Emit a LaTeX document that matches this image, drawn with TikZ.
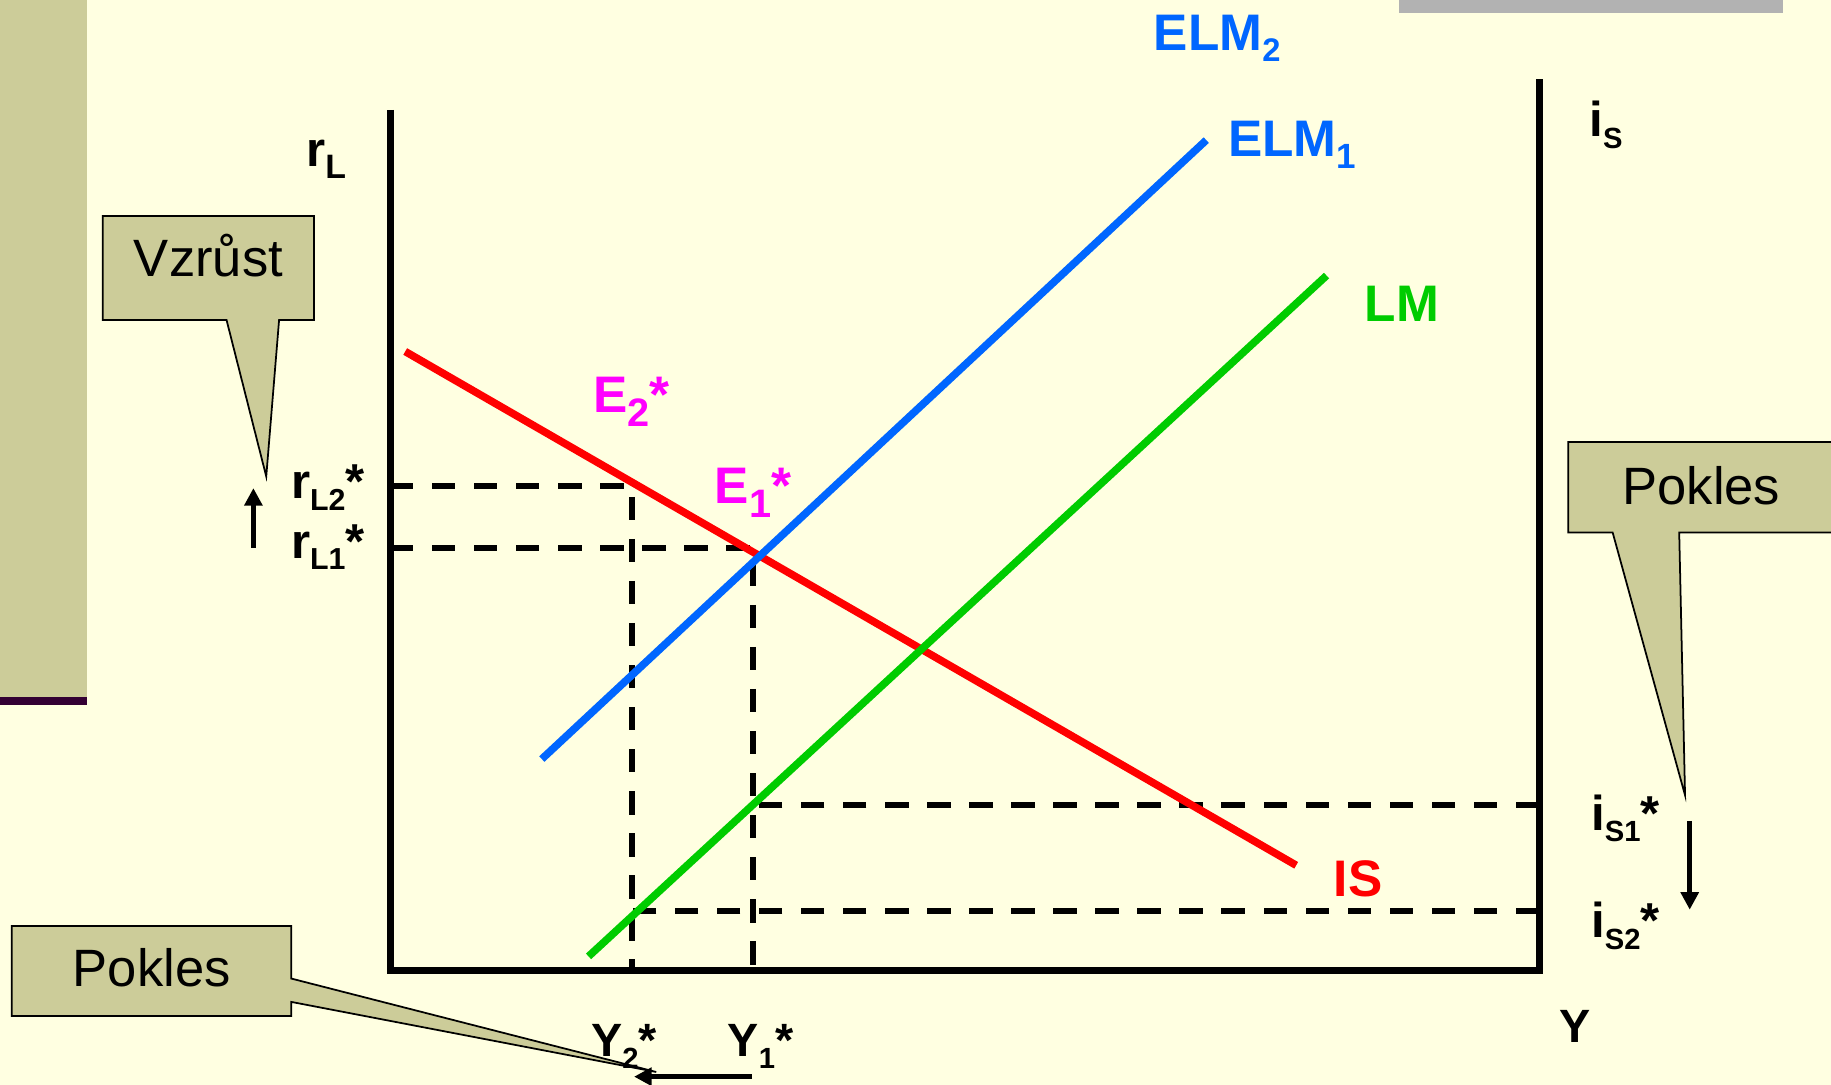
\documentclass[tikz,border=0pt]{standalone}
\usepackage{fontspec}
\setmainfont{Liberation Sans}
\usetikzlibrary{arrows.meta}
\definecolor{bgc}{HTML}{FFFFE1}
\definecolor{olivec}{HTML}{CCCC99}
\definecolor{purplec}{HTML}{330033}
\definecolor{grayc}{HTML}{B2B2B2}
\definecolor{bluec}{HTML}{0066FF}
\definecolor{greenc}{HTML}{00CC00}
\definecolor{redc}{HTML}{FF0000}
\definecolor{magc}{HTML}{FF00FF}
\newcommand{\mysub}[2][25]{\raisebox{-10pt}{\fontsize{#1}{#1}\selectfont #2}}
\begin{document}
\begin{tikzpicture}[x=1pt,y=-1pt,
  axisline/.style={line width=6pt, line join=miter},
  dashline/.style={line width=5pt, dash pattern=on 20pt off 16pt},
  curve/.style={line width=6.5pt},
  lab/.style={inner sep=0pt, anchor=base west, font=\bfseries\fontsize{42}{42}\selectfont},
  biglab/.style={inner sep=0pt, anchor=base west, font=\bfseries\fontsize{44}{44}\selectfont},
  callout/.style={fill=olivec, draw=black, line width=1.5pt, line join=miter},
  calltext/.style={inner sep=0pt, anchor=base, font=\fontsize{45}{45}\selectfont},
  arr/.style={line width=4pt, -{Triangle[width=15pt,length=15pt]}}]
\clip (0,0) rectangle (1568,929);
\fill[bgc] (0,0) rectangle (1568,929);
% decorations
\fill[olivec] (0,0) rectangle (74.5,597);
\fill[purplec] (0,597) rectangle (74.5,603.5);
\fill[grayc] (1198,0) rectangle (1527,11);
% coordinates
\coordinate (ytop) at (334,94);
\coordinate (orig) at (334,831);
\coordinate (xend) at (1318,831);
\coordinate (rtop) at (1318,68);
\coordinate (rl2a) at (334,416.5);
\coordinate (rl2b) at (541,416.5);
\coordinate (y2b) at (541,831);
\coordinate (rl1a) at (334,469);
\coordinate (rl1b) at (645,469);
\coordinate (y1b) at (645,831);
\coordinate (is1a) at (645,689.5);
\coordinate (is1b) at (1318,689.5);
\coordinate (is2a) at (541,780);
\coordinate (is2b) at (1318,780);
\coordinate (isA) at (347,301);
\coordinate (isB) at (1110,741);
\coordinate (lmA) at (504,819);
\coordinate (lmB) at (1136,236);
\coordinate (elA) at (464,650);
\coordinate (elB) at (1033,120);
% dashed
\draw[dashline] (rl2a) -- (rl2b) -- (y2b);
\draw[dashline] (rl1a) -- (rl1b) -- (y1b);
\draw[dashline] (is1b) -- (is1a);
\draw[dashline] (is2b) -- (is2a);
% curves
\draw[curve, redc] (isA) -- (isB);
\draw[curve, greenc] (lmA) -- (lmB);
\draw[curve, bluec] (elA) -- (elB);
% axes
\draw[axisline] (ytop) -- (orig) -- (xend) -- (rtop);
% labels
\node[lab] (rL) at (262,142.5) {r\mysub[29]{L}};
\node[lab] (rL2) at (249,427) {r\mysub[26]{L2}*};
\node[lab] (rL1) at (249,478) {r\mysub[26]{L1}*};
\node[biglab, text=magc] (E2) at (508,353) {E\mysub[34]{\raisebox{-2pt}{2}}*};
\node[biglab, text=magc] (E1) at (612,431.5) {E\mysub[34]{\raisebox{-2pt}{1}}*};
\node[biglab, text=bluec] (ELM2) at (988,43) {ELM\mysub[28]{2}};
\node[biglab, text=bluec] (ELM1) at (1051.5,134) {ELM\mysub[30]{1}};
\node[biglab, text=greenc] (LM) at (1168.5,275.5) {LM};
\node[biglab, text=redc] (IS) at (1142,768) {IS};
\node[lab] (iS) at (1361,117) {i\mysub{S}};
\node[lab] (iS1) at (1362.5,711) {i\mysub{S1}*};
\node[lab] (iS2) at (1362.5,803) {i\mysub{S2}*};
\node[lab, font=\bfseries\fontsize{40}{40}\selectfont] (Y) at (1335,893) {Y};
\node[lab, font=\bfseries\fontsize{40}{40}\selectfont] (Y2) at (506,905) {Y\mysub{2}*};
\node[lab, font=\bfseries\fontsize{40}{40}\selectfont] (Y1) at (623,905) {Y\mysub{1}*};
% arrows
\coordinate (uaS) at (217,469);
\coordinate (uaE) at (217,418);
\coordinate (daS) at (1447,703);
\coordinate (daE) at (1447,779);
\coordinate (laS) at (644,922);
\coordinate (laE) at (543,922);
\draw[arr] (uaS) -- (uaE);
\draw[arr] (daS) -- (daE);
\draw[arr] (laS) -- (laE);
% callouts
\draw[callout] (88,185) -- (269,185) -- (269,274) -- (239,274) -- (228,408) -- (194,274) -- (88,274) -- cycle;
\node[calltext] (vz) at (178.5,237) {Vzrůst};
\draw[callout] (1343,378.5) -- (1590,378.5) -- (1590,456) -- (1438,456) -- (1443,681) -- (1381,456) -- (1343,456) -- cycle;
\node[calltext] (pk1) at (1457,432) {Pokles};
\draw[callout] (10,793) -- (249.5,793) -- (249.5,838) -- (562,918) -- (249.5,858) -- (249.5,870) -- (10,870) -- cycle;
\node[calltext] (pk2) at (130,845) {Pokles};
\end{tikzpicture}
\end{document}
